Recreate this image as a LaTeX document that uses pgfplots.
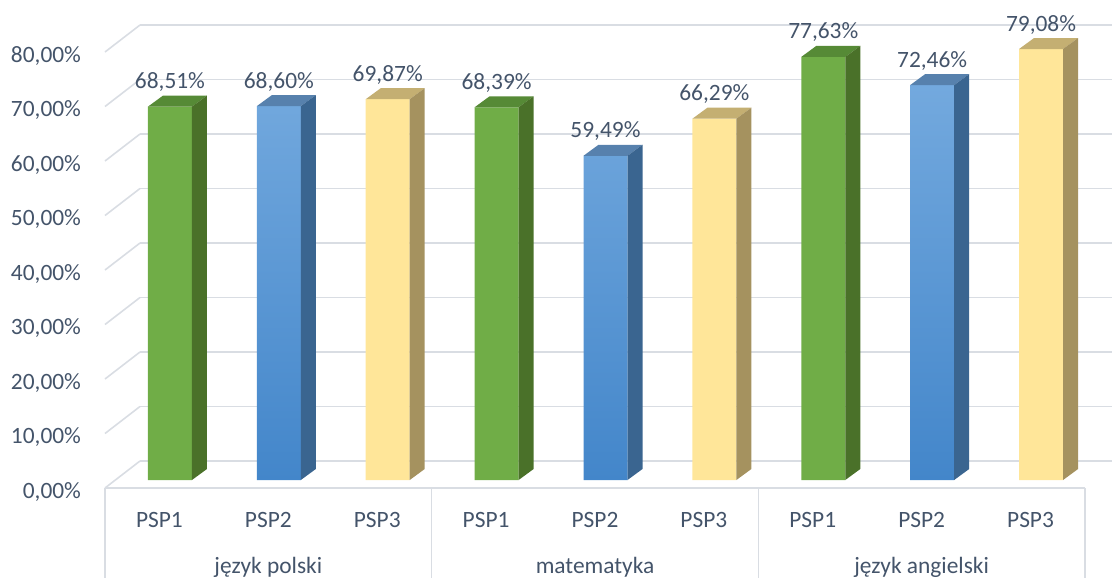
\documentclass[border=0pt]{standalone}
\usepackage{pgfplots}
\pgfplotsset{compat=1.18}
\usepackage{pgfplotstable}
\usepackage{fontspec}
\setmainfont{Carlito}
\definecolor{txt}{HTML}{44546A}
\definecolor{gridc}{HTML}{D9DDE3}
\definecolor{gF}{HTML}{70AD47}
\definecolor{gT}{HTML}{568A36}
\definecolor{gS}{HTML}{4A7129}
\definecolor{bFt}{HTML}{73A9DE}
\definecolor{bFb}{HTML}{4386CA}
\definecolor{bT}{HTML}{5781AD}
\definecolor{bS}{HTML}{3A6590}
\definecolor{yF}{HTML}{FFE699}
\definecolor{yT}{HTML}{C4AF72}
\definecolor{yS}{HTML}{A5925F}

\pgfplotstableread{
x v
0.5 68.51
3.5 68.39
6.5 77.63
}\greendata
\pgfplotstableread{
x v
1.5 68.60
4.5 59.49
7.5 72.46
}\bluedata
\pgfplotstableread{
x v
2.5 69.87
5.5 66.29
8.5 79.08
}\yellowdata

% 3D top and side faces of a bar, drawn at the bar's data point (x, value)
\newcommand\declbarmark[3]{%
  \pgfdeclareplotmark{#1}{%
    \pgfmathsetmacro\bh{\barv*2.725}%
    \pgfsetfillcolor{#2}%
    \pgfpathmoveto{\pgfpoint{-11pt}{0pt}}%
    \pgfpathlineto{\pgfpoint{11pt}{0pt}}%
    \pgfpathlineto{\pgfpoint{18.5pt}{5.5pt}}%
    \pgfpathlineto{\pgfpoint{-3.5pt}{5.5pt}}%
    \pgfpathclose
    \pgfusepath{fill}%
    \pgfsetfillcolor{#3}%
    \pgfpathmoveto{\pgfpoint{11pt}{0pt}}%
    \pgfpathlineto{\pgfpoint{18.5pt}{5.5pt}}%
    \pgfpathlineto{\pgfpoint{18.5pt}{5.5pt-\bh pt}}%
    \pgfpathlineto{\pgfpoint{11pt}{-\bh pt}}%
    \pgfpathclose
    \pgfusepath{fill}%
  }}
\declbarmark{barG}{gT}{gS}
\declbarmark{barB}{bT}{bS}
\declbarmark{barY}{yT}{yS}

\pgfplotsset{
  common/.style={scale only axis, width=490pt, height=218pt,
    xmin=0, xmax=9, ymin=0, ymax=80, anchor=south west},
  lbl/.style={
    nodes near coords={\pgfmathprintnumber[fixed,fixed zerofill,precision=2,use comma,assume math mode=true]{\pgfplotspointmeta}\%},
    every node near coord/.append style={anchor=base, yshift=9pt, text=txt, font=\fontsize{11.7pt}{14pt}\selectfont}},
}

\begin{document}
\begin{tikzpicture}[font=\fontsize{11.7pt}{14pt}\selectfont]
\useasboundingbox (0,0) rectangle (556pt,289pt);
% back wall
\begin{axis}[common, at={(70pt,58.5pt)},
  axis line style={draw=none}, xtick=\empty,
  ytick={0,10,...,80}, yticklabels={}, major tick length=0pt,
  ymajorgrids, major grid style={draw=gridc, line width=0.8pt}]
\end{axis}
% front plane: side wall lines, floor, category axis
\begin{axis}[common, at={(52.5pt,45pt)}, clip=false,
  axis line style={draw=none}, major tick length=0pt,
  ytick={0,10,...,80},
  yticklabels={{0,00\%},{10,00\%},{20,00\%},{30,00\%},{40,00\%},{50,00\%},{60,00\%},{70,00\%},{80,00\%}},
  yticklabel style={anchor=east, xshift=-8.5pt, yshift=-2pt, text=txt},
  xtick={0.5,1.5,2.5,3.5,4.5,5.5,6.5,7.5,8.5},
  xticklabels={PSP1,PSP2,PSP3,PSP1,PSP2,PSP3,PSP1,PSP2,PSP3},
  xticklabel style={anchor=base, yshift=-19.5pt, text=txt}]
  \pgfplotsinvokeforeach{0,10,20,30,40,50,60,70,80}{%
    \draw[gridc, line width=0.8pt] (axis cs:0,#1) -- ++(17.5pt,13.5pt);}
  \draw[gridc, line width=0.8pt] (axis cs:0,0) -- (axis cs:9,0);
  \pgfplotsinvokeforeach{0,3,6,9}{%
    \draw[gridc, line width=0.8pt] (axis cs:#1,0) -- ++(0,-45pt);}
  \node[anchor=base, text=txt, yshift=-42.5pt] at (axis cs:1.5,0) {język polski};
  \node[anchor=base, text=txt, yshift=-42.5pt] at (axis cs:4.5,0) {matematyka};
  \node[anchor=base, text=txt, yshift=-42.5pt] at (axis cs:7.5,0) {język angielski};
\end{axis}
% bars
\begin{axis}[common, at={(57.75pt,49pt)}, hide axis, clip=false]
  \addplot[ybar, bar width=22pt, bar shift=0pt, draw=none, fill=gF, lbl] table[x=x,y=v] {\greendata};
  \addplot[only marks, mark=barG, visualization depends on={rawy \as \barv}] table[x=x,y=v] {\greendata};
  \addplot[ybar, bar width=22pt, bar shift=0pt, draw=none, top color=bFt, bottom color=bFb, lbl] table[x=x,y=v] {\bluedata};
  \addplot[only marks, mark=barB, visualization depends on={rawy \as \barv}] table[x=x,y=v] {\bluedata};
  \addplot[ybar, bar width=22pt, bar shift=0pt, draw=none, fill=yF, lbl] table[x=x,y=v] {\yellowdata};
  \addplot[only marks, mark=barY, visualization depends on={rawy \as \barv}] table[x=x,y=v] {\yellowdata};
\end{axis}
\end{tikzpicture}
\end{document}
